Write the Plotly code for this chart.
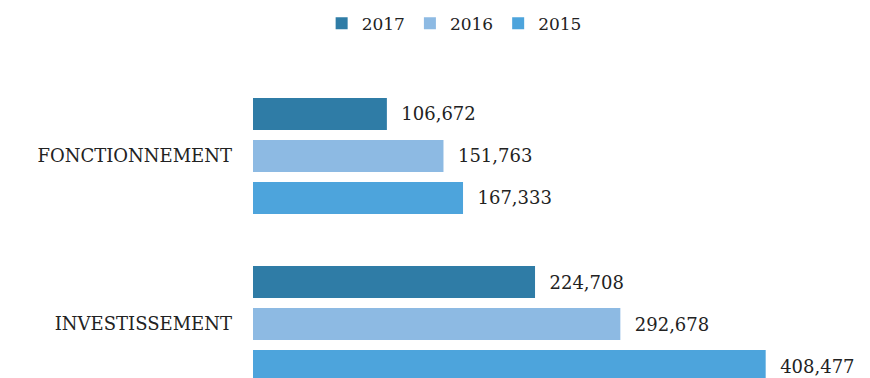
import plotly.graph_objects as go

# Budget sections and yearly amounts
categories = ["FONCTIONNEMENT", "INVESTISSEMENT"]
years = ["2017", "2016", "2015"]
values_2017 = [106672, 224708]
values_2016 = [151763, 292678]
values_2015 = [167333, 408477]

series = {"2017": values_2017, "2016": values_2016, "2015": values_2015}
colors = {"2017": "#2F7CA6", "2016": "#8DBAE3", "2015": "#4DA4DC"}

serif = "DejaVu Serif, Liberation Serif, serif"

fig = go.Figure()
for yr in years:
    vals = series[yr]
    fig.add_trace(go.Bar(
        name=yr,
        y=categories,
        x=vals,
        orientation="h",
        marker=dict(color=colors[yr], line=dict(width=0)),
        text=[f"  {v:,}" for v in vals],
        textposition="outside",
        textfont=dict(family=serif, size=18, color="#222222"),
        cliponaxis=False,
    ))

fig.update_layout(
    width=870,
    height=378,
    barmode="group",
    bargap=0.25,
    bargroupgap=0.24,
    plot_bgcolor="white",
    paper_bgcolor="white",
    margin=dict(l=253, r=2, t=60, b=0),
    showlegend=True,
    legend=dict(
        orientation="h",
        xref="container",
        yref="container",
        x=0.522, xanchor="center",
        y=0.985, yanchor="top",
        font=dict(family=serif, size=17, color="#222222"),
        itemwidth=30,
        traceorder="normal",
    ),
    xaxis=dict(
        range=[0, 490000],
        showgrid=False,
        zeroline=False,
        showticklabels=False,
        showline=False,
    ),
    yaxis=dict(
        categoryorder="array",
        categoryarray=categories,
        range=[1.321, -0.571],
        showgrid=False,
        zeroline=False,
        showline=False,
        ticks="",
        ticklabelstandoff=20,
        tickfont=dict(family=serif, size=18, color="#222222"),
    ),
)

fig.write_html("out.html")
